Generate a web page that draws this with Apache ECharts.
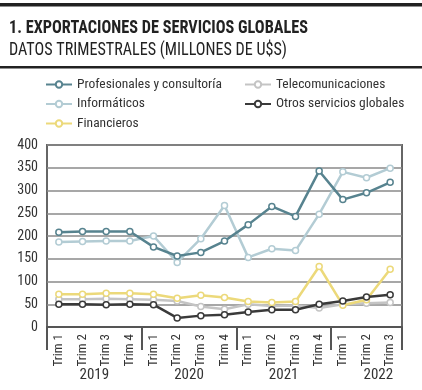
<!DOCTYPE html>
<html><head><meta charset="utf-8">
<script src="https://cdn.jsdelivr.net/npm/echarts@6/dist/echarts.min.js"></script>
<style>html,body{margin:0;padding:0;background:#fff}#c{width:422px;height:390px}</style>
</head><body><div id="c"></div>
<script>
const categories = ['Trim 1','Trim 2','Trim 3','Trim 4','Trim 1','Trim 2','Trim 3','Trim 4','Trim 1','Trim 2','Trim 3','Trim 4','Trim 1','Trim 2','Trim 3'];
const years = ['2019','2020','2021','2022'];
const yearLabelPos = [2, 6, 10, 14];
const yearSeparators = [0, 4, 8, 12, 15];
const profesionales = [208,210,210,210,176,156,164,189,225,265,243,343,280,295,318];
const informaticos = [187,188,189,189,200,142,194,267,153,172,168,248,341,328,349];
const financieros = [72,72,74,74,72,63,70,65,56,54,56,133,48,60,127];
const telecomunicaciones = [61,61,62,61,60,57,45,39,50,46,47,42,50,52,54];
const otros = [50,50,49,50,49,20,25,27,33,38,38,50,57,66,71];
const yTicks = [0,50,100,150,200,250,300,350,400];
const titleText = '1. EXPORTACIONES DE SERVICIOS GLOBALES';
const subtitleText = 'DATOS TRIMESTRALES (MILLONES DE U$S)';

const FONT = '"Roboto Condensed","Open Sans Condensed","Liberation Sans",sans-serif';
function fitScale(text, font, target){
  const cx = document.createElement('canvas').getContext('2d');
  cx.font = font;
  return target / cx.measureText(text).width;
}
const tFont = 'bold 19px "Roboto Condensed"';
const sFont = '19px "Roboto Condensed"';
const tScale = fitScale(titleText, tFont, 299);
const sScale = fitScale(subtitleText, sFont, 278);

const chart = echarts.init(document.getElementById('c'), null, {renderer:'canvas'});
function ser(name, data, color, z){
  return {name, type:'line', data, xAxisIndex:0, yAxisIndex:0, z,
    symbol:'circle', symbolSize:6, showSymbol:true,
    lineStyle:{color, width:2.5},
    itemStyle:{color:'#fff', borderColor:color, borderWidth:1.5},
    emphasis:{disabled:true}, animation:false};
}
const legText = {fontFamily:FONT, fontSize:13.5, color:'#333'};
chart.setOption({
  animation:false,
  textStyle:{fontFamily:FONT},
  graphic:[
    {type:'rect', shape:{x:0,y:3,width:422,height:3.5}, style:{fill:'#222'}},
    {type:'rect', shape:{x:0,y:66,width:422,height:2.5}, style:{fill:'#222'}},
    {type:'text', x:9, y:28, scaleX:tScale, originX:0,
     style:{text:titleText, font:tFont, fill:'#222', verticalAlign:'middle', align:'left'}},
    {type:'text', x:9, y:50.5, scaleX:sScale, originX:0,
     style:{text:subtitleText, font:sFont, fill:'#222', verticalAlign:'middle', align:'left'}}
  ],
  legend:[
    {data:['Profesionales y consultoría','Informáticos','Financieros'], orient:'vertical', padding:0,
     left:45, top:77.5, itemWidth:26, itemHeight:8, itemGap:5.5, textStyle:legText, selectedMode:false},
    {data:['Telecomunicaciones','Otros servicios globales'], orient:'vertical', padding:0,
     left:244, top:77.5, itemWidth:26, itemHeight:8, itemGap:5.5, textStyle:legText, selectedMode:false}
  ],
  grid:{left:47, right:20, top:145, bottom:63, show:true, borderColor:'#666', borderWidth:2, containLabel:false},
  xAxis:[
    {type:'category', data:categories, boundaryGap:true,
     axisLine:{lineStyle:{color:'#555', width:2}}, axisTick:{show:false},
     axisLabel:{rotate:90, margin:7, fontFamily:FONT, fontSize:13, color:'#333', interval:0},
     splitLine:{show:false}},
    {type:'value', min:0, max:15, position:'bottom',
     axisLine:{show:false}, splitLine:{show:false},
     axisTick:{show:true, customValues:yearSeparators, length:23, inside:false, lineStyle:{color:'#555', width:2}},
     axisLabel:{customValues:yearLabelPos, margin:41, fontFamily:FONT, fontSize:15, color:'#333',
       formatter:function(v){ const i = yearLabelPos.indexOf(v); return i>=0 ? years[i] : ''; }}}
  ],
  yAxis:{type:'value', min:0, max:400, interval:50,
    axisLine:{show:false}, axisTick:{show:false},
    axisLabel:{margin:9, fontFamily:FONT, fontSize:14, color:'#333', customValues:yTicks},
    splitLine:{lineStyle:{color:'#8a8a8a', width:1.5}}},
  series:[
    ser('Profesionales y consultoría', profesionales, '#57838f', 5),
    ser('Informáticos', informaticos, '#b3ccd4', 4),
    ser('Financieros', financieros, '#ecd97a', 3),
    ser('Telecomunicaciones', telecomunicaciones, '#c4c4c4', 2),
    ser('Otros servicios globales', otros, '#3a3a3a', 6)
  ]
});
</script></body></html>
